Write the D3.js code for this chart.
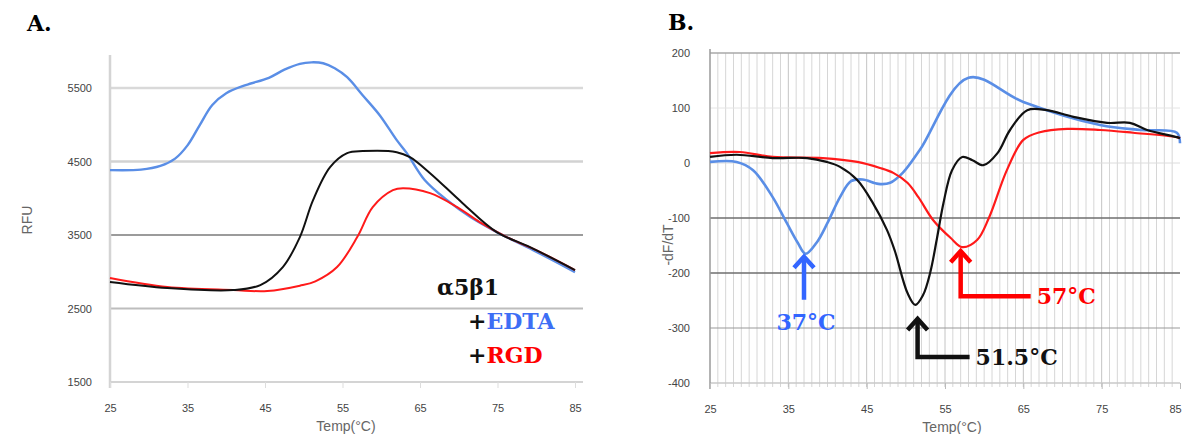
<!DOCTYPE html>
<html>
<head>
<meta charset="utf-8">
<script src="https://cdn.jsdelivr.net/npm/d3@7"></script>
<style>
  body { margin: 0; background: #fff; }
  .tick-label { font-family: "Liberation Sans", Arial, sans-serif; font-size: 11px; fill: #444; }
  .axis-title { font-family: "Liberation Sans", Arial, sans-serif; font-size: 14px; fill: #666; }
  .note { font-family: "DejaVu Serif", serif; font-weight: bold; font-size: 22px; }
</style>
</head>
<body>
<div id="chart"></div>
<script>
// ---- data: panel A (RFU vs temperature) ----
const tempTicks = [25, 35, 45, 55, 65, 75, 85];
const rfuTicks = [1500, 2500, 3500, 4500, 5500];
const dfTicks = [200, 100, 0, -100, -200, -300, -400];

const rfuEdta = [[25,4383],[29,4390],[31.5,4440],[33.4,4540],[35,4720],[36.6,5000],[38.2,5270],[40,5430],
  [42.5,5540],[45.5,5640],[47.5,5750],[49.5,5830],[51,5850],[52.5,5838],[54,5770],[55.6,5648],[57.6,5403],
  [59.8,5131],[62,4791],[63.3,4614],[65.6,4250],[68.5,3975],[71.5,3744],[74.9,3540],[79.6,3295],[85,2996]];
const rfuBase = [[25,2860],[32.4,2778],[40.9,2751],[44.4,2819],[47.3,3064],[49.5,3472],[51.2,3975],[53.4,4424],
  [55.6,4614],[57.6,4642],[62,4628],[63.7,4560],[66.3,4342],[70.5,3934],[74.9,3540],[79.2,3336],[85,3023]];
const rfuRgd = [[25,2914],[32.4,2792],[40.9,2751],[45.3,2738],[49.5,2810],[51.5,2870],[54.3,3064],[56.9,3472],
  [58.9,3880],[61.5,4111],[62.8,4138],[66.3,4070],[69.8,3880],[72.7,3676],[76.2,3472],[80.5,3268],[85,3023]];

// ---- data: panel B (-dF/dT vs temperature) ----
const dfEdta = [[25,2],[28.4,2],[30.5,-13],[33,-62],[34.8,-109],[36.2,-145],[37.2,-165],[38.6,-145],[40,-109],
  [41.6,-62],[43,-33],[44.5,-30],[46.5,-38],[48,-36],[49.6,-18],[51.8,24],[58,155],[65,111],[74.8,69],
  [80,60],[84.6,55],[85,36]];
const dfBase = [[25,11],[28.4,15],[33,9],[37.4,9],[39.9,2],[41.6,-7],[43.8,-31],[45.8,-73],[47.6,-122],
  [48.6,-160],[50.2,-236],[51.2,-258],[52.2,-240],[53.1,-200],[54,-135],[54.8,-73],[55.9,-13],[57.2,11],
  [58.5,5],[59.9,-4],[61.7,18],[63.3,60],[65.5,96],[68,96],[71.4,84],[75.7,73],[78.6,73],[80.8,60],
  [84.6,47],[85,45]];
const dfRgd = [[25,18],[28.8,20],[33,11],[39.4,9],[43.8,2],[46.7,-9],[48.4,-18],[50.2,-36],[51.6,-62],
  [53.5,-104],[55.7,-136],[57.2,-153],[59.1,-140],[60.6,-100],[62.9,-13],[65,42],[67.1,56],[70.6,62],
  [74.8,60],[79,55],[84.6,47],[85,45]];

// melting temperature call-outs: label, temperature, curve value at the tip
const peakLabels = ['37°C', '51.5°C', '57°C'];
const peakTemps = [37, 51.5, 57];
const peakValues = [-165, -258, -153];

const colors = { edta: '#5a8ee6', base: '#111111', rgd: '#ff1a1a' };
const plainNum = d => String(d);

const svg = d3.select('#chart').append('svg')
  .attr('width', 1185).attr('height', 434);

// ================= panel A =================
const xA = d3.scaleLinear().domain([25, 85]).range([110, 575]);
const yA = d3.scaleLinear().domain([1500, 5950]).range([382, 55]);

const gA = svg.append('g');
const gridStyleA = {5500: ['#d9d9d9', 2.5], 4500: ['#d2d2d2', 2.5], 3500: ['#7a7a7a', 1.5], 2500: ['#bdbdbd', 2.2], 1500: ['#d4d4d4', 2]};
rfuTicks.forEach(v => {
  gA.append('line')
    .attr('x1', xA(25)).attr('x2', xA(85) + 8)
    .attr('y1', yA(v)).attr('y2', yA(v))
    .attr('stroke', gridStyleA[v][0]).attr('stroke-width', gridStyleA[v][1]);
});
gA.append('line')
  .attr('x1', xA(25)).attr('x2', xA(25))
  .attr('y1', yA(5950)).attr('y2', yA(1500) + 6)
  .attr('stroke', '#d4d4d4').attr('stroke-width', 2.5);

// axes via d3 axis generators, then styled
const axisA_y = gA.append('g').attr('transform', `translate(${xA(25)},0)`)
  .call(d3.axisLeft(yA).tickValues(rfuTicks).tickFormat(plainNum).tickSize(0).tickPadding(18));
const axisA_x = gA.append('g').attr('transform', `translate(0,${yA(1500)})`)
  .call(d3.axisBottom(xA).tickValues(tempTicks).tickFormat(plainNum).tickSize(6).tickPadding(16));
[axisA_y, axisA_x].forEach(a => {
  a.select('.domain').remove();
  a.selectAll('.tick line').attr('stroke', '#ddd');
  a.selectAll('.tick text').attr('class', 'tick-label').attr('font-size', null).attr('font-family', null);
});

const lineA = d3.line().x(d => xA(d[0])).y(d => yA(d[1])).curve(d3.curveCatmullRom.alpha(0.5));
[[rfuEdta, colors.edta, 2.4], [rfuRgd, colors.rgd, 2], [rfuBase, colors.base, 2]].forEach(([data, c, w]) => {
  gA.append('path').datum(data).attr('d', lineA)
    .attr('fill', 'none').attr('stroke', c).attr('stroke-width', w);
});

gA.append('text').attr('class', 'axis-title')
  .attr('transform', 'translate(32,220) rotate(-90)')
  .attr('text-anchor', 'middle').text('RFU');
gA.append('text').attr('class', 'axis-title')
  .attr('x', 346).attr('y', 431).attr('text-anchor', 'middle').text('Temp(°C)');

svg.append('text').attr('class', 'note').attr('x', 27).attr('y', 31).text('A.');

const legend = gA.append('g');
legend.append('text').attr('class', 'note').attr('x', 437).attr('y', 295).attr('fill', '#111').text('α5β1');
const l2 = legend.append('text').attr('class', 'note').attr('x', 468).attr('y', 329);
l2.append('tspan').attr('fill', '#111').text('+');
l2.append('tspan').attr('fill', '#3d6ef5').text('EDTA');
const l3 = legend.append('text').attr('class', 'note').attr('x', 468).attr('y', 363);
l3.append('tspan').attr('fill', '#111').text('+');
l3.append('tspan').attr('fill', '#ff0000').text('RGD');

// ================= panel B =================
const xB = d3.scaleLinear().domain([25, 85]).range([710, 1180]);
const yB = d3.scaleLinear().domain([-400, 200]).range([383, 53]);

const gB = svg.append('g');
// minor vertical grid, every degree
d3.range(26, 85).forEach(t => {
  gB.append('line')
    .attr('x1', xB(t)).attr('x2', xB(t))
    .attr('y1', yB(200)).attr('y2', yB(-400) + 4)
    .attr('stroke', t % 10 === 5 ? '#c4c4c4' : '#d6d6d6').attr('stroke-width', 1);
});
const gridStyleB = {200: ['#a8a8a8', 1.5], 100: ['#e4e4e4', 1], 0: ['#dcdcdc', 1], '-100': ['#6e6e6e', 1.3],
  '-200': ['#6e6e6e', 1.3], '-300': ['#9a9a9a', 1.2], '-400': ['#c8c8c8', 1.5]};
dfTicks.forEach(v => {
  gB.append('line')
    .attr('x1', xB(25)).attr('x2', xB(85))
    .attr('y1', yB(v)).attr('y2', yB(v))
    .attr('stroke', gridStyleB[v][0]).attr('stroke-width', gridStyleB[v][1]);
});
gB.append('line')
  .attr('x1', xB(25)).attr('x2', xB(25))
  .attr('y1', yB(200) - 4).attr('y2', yB(-400) + 6)
  .attr('stroke', '#9a9a9a').attr('stroke-width', 1.5);

const axisB_y = gB.append('g').attr('transform', `translate(${xB(25)},0)`)
  .call(d3.axisLeft(yB).tickValues(dfTicks).tickFormat(plainNum).tickSize(0).tickPadding(20));
const axisB_x = gB.append('g').attr('transform', `translate(0,${yB(-400)})`)
  .call(d3.axisBottom(xB).tickValues(tempTicks).tickFormat(plainNum).tickSize(6).tickPadding(16));
[axisB_y, axisB_x].forEach(a => {
  a.select('.domain').remove();
  a.selectAll('.tick line').attr('stroke', '#bbb');
  a.selectAll('.tick text').attr('class', 'tick-label').attr('font-size', null).attr('font-family', null);
});
// last label sits against the page edge
axisB_x.selectAll('.tick text').filter(d => d === 85).attr('dx', -5);

const lineB = d3.line().x(d => xB(d[0])).y(d => yB(d[1])).curve(d3.curveCatmullRom.alpha(0.5));
[[dfEdta, colors.edta, 2.6], [dfRgd, colors.rgd, 2.2], [dfBase, colors.base, 2.2]].forEach(([data, c, w]) => {
  gB.append('path').datum(data).attr('d', lineB)
    .attr('fill', 'none').attr('stroke', c).attr('stroke-width', w);
});

gB.append('text').attr('class', 'axis-title')
  .attr('transform', 'translate(673,245) rotate(-90)')
  .attr('text-anchor', 'middle').text('-dF/dT');
gB.append('text').attr('class', 'axis-title')
  .attr('x', 952).attr('y', 432).attr('text-anchor', 'middle').text('Temp(°C)');

svg.append('text').attr('class', 'note').attr('x', 668).attr('y', 30).text('B.');

// call-out arrows
const arrowColors = ['#3366ff', '#111111', '#ff0000'];
const tipGap = [2, 13, 3];
const shaftLen = [44, 39, 46];
const elbowLen = [0, 52, 70];
peakTemps.forEach((t, i) => {
  const x = xB(t);
  const tip = yB(peakValues[i]) + tipGap[i];
  const bottom = tip + shaftLen[i];
  const c = arrowColors[i];
  let d = `M${x},${tip + 2}L${x},${bottom}`;
  if (elbowLen[i] > 0) d += `L${x + elbowLen[i]},${bottom}`;
  gB.append('path').attr('d', d).attr('fill', 'none')
    .attr('stroke', c).attr('stroke-width', 4.5);
  gB.append('path').attr('d', `M${x - 10},${tip + 12}L${x},${tip + 1}L${x + 10},${tip + 12}`)
    .attr('fill', 'none').attr('stroke', c).attr('stroke-width', 4.5);
  const label = gB.append('text').attr('class', 'note').attr('fill', c).text(peakLabels[i]);
  if (elbowLen[i] > 0) {
    label.attr('x', x + elbowLen[i] + 6).attr('y', bottom + 8);
  } else {
    label.attr('x', x + 2).attr('y', bottom + 30).attr('text-anchor', 'middle');
  }
});
</script>
</body>
</html>
